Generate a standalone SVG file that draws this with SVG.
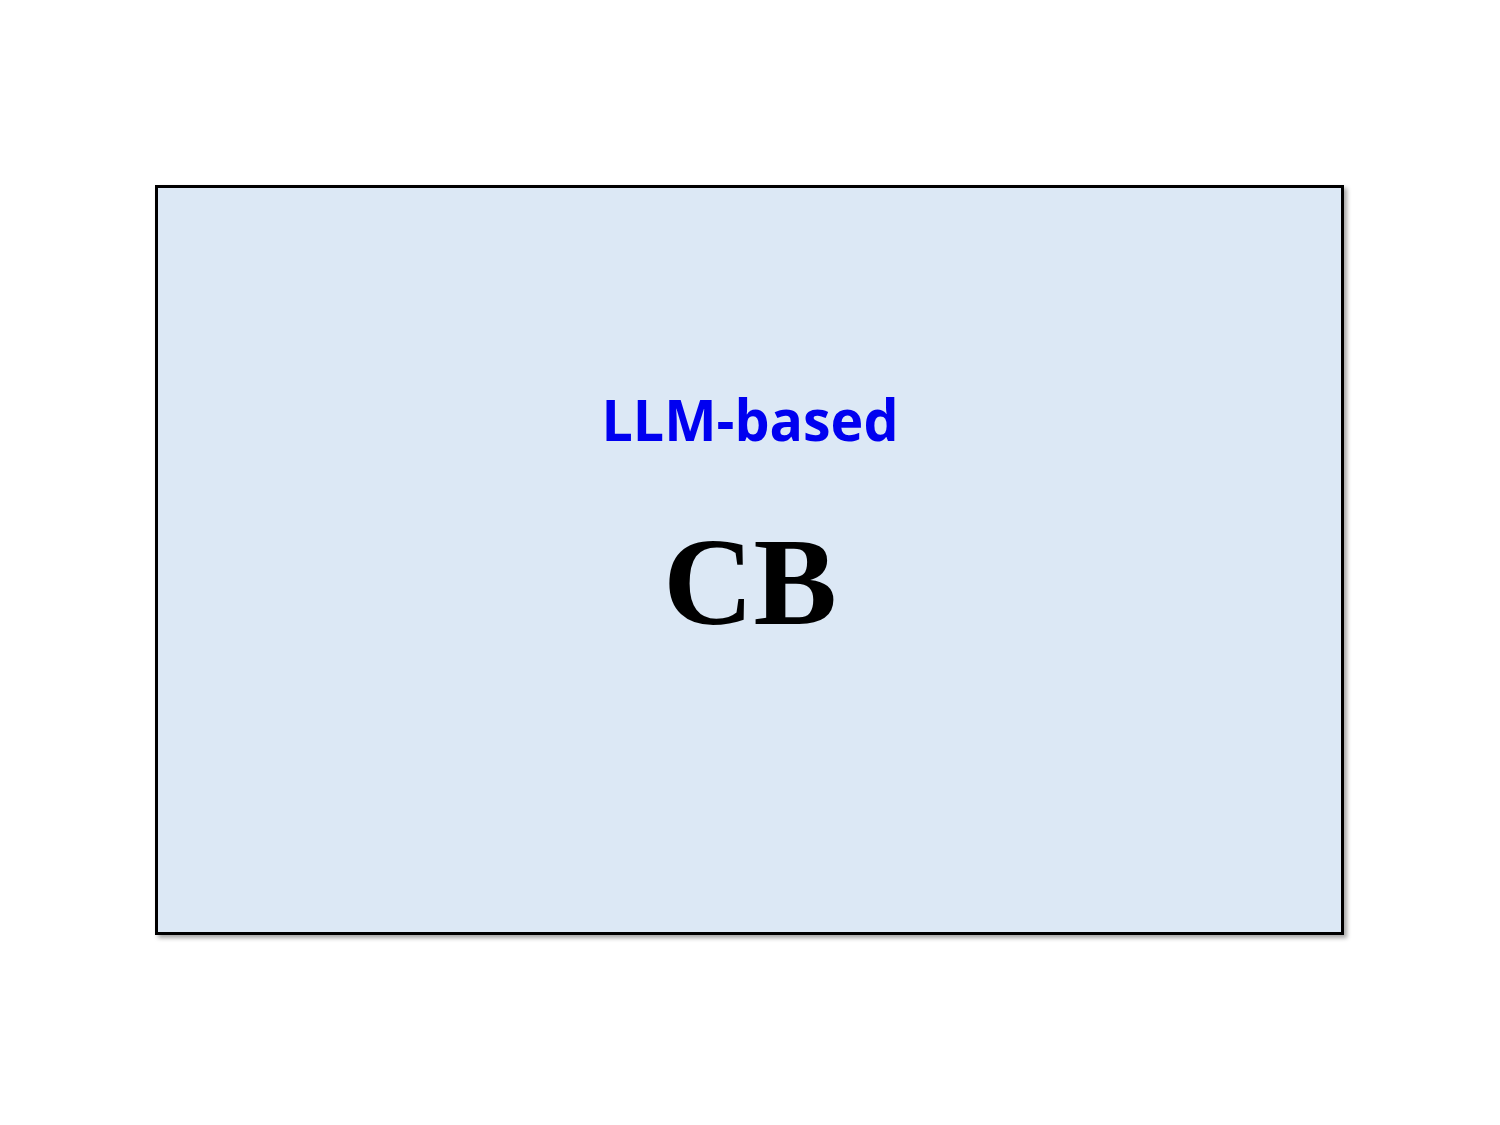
<svg xmlns="http://www.w3.org/2000/svg" width="1500" height="1125" viewBox="0 0 1500 1125">
<style>
.box{fill:#dce8f5;stroke:#000;stroke-width:3}
.t1{font-family:"Open Sans","Noto Sans","Liberation Sans",sans-serif;font-weight:bold;fill:#0000f0;text-anchor:middle}
.t2{font-family:"Liberation Serif","Times New Roman",serif;font-weight:bold;fill:#000;text-anchor:middle}
</style>
<defs>
<filter id="sh" x="-5%" y="-5%" width="110%" height="110%">
<feDropShadow dx="3" dy="3" stdDeviation="2" flood-color="#000" flood-opacity="0.35"/>
</filter>
</defs>
<rect width="1500" height="1125" fill="#fff"/>
<g id="node-cb">
<rect class="box" x="156.5" y="186.5" width="1186" height="747" filter="url(#sh)"/>
<text class="t1" x="750" y="441" font-size="58" textLength="297" lengthAdjust="spacingAndGlyphs">LLM-based</text>
<text class="t2" x="750" y="624" font-size="125">CB</text>
</g>
<g id="connectors"/>
</svg>
